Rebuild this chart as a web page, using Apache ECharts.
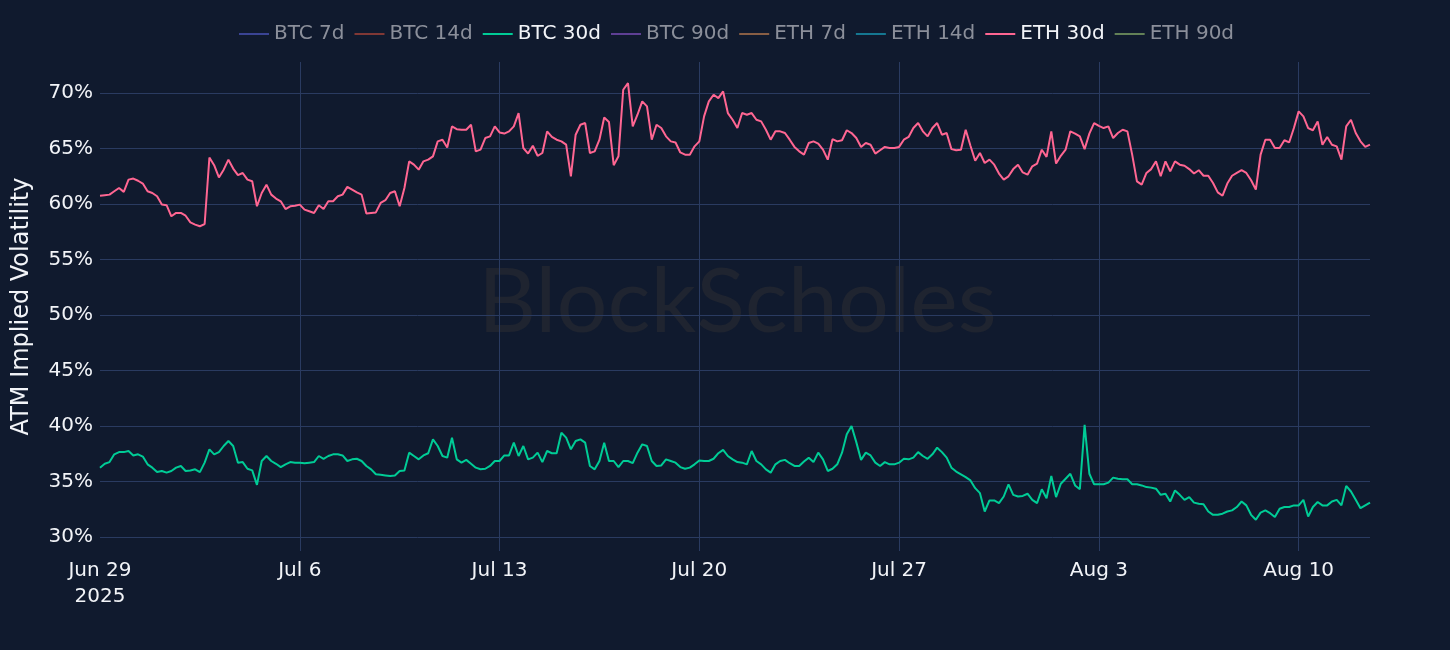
<!DOCTYPE html>
<html>
<head>
<meta charset="utf-8">
<title>ATM Implied Volatility</title>
<script src="https://cdn.jsdelivr.net/npm/echarts@6/dist/echarts.min.js"></script>
<style>
html,body{margin:0;padding:0;background:#101a2e;}
#main{width:1450px;height:650px;}
</style>
</head>
<body>
<div id="main"></div>
<script>
// 4-hourly samples starting Jun 29 2025 00:00
var startDate = [2025, 6, 29]
var stepHours = 4

var seriesNames = ['BTC 7d', 'BTC 14d', 'BTC 30d', 'BTC 90d', 'ETH 7d', 'ETH 14d', 'ETH 30d', 'ETH 90d']
var shownSeries = ['BTC 30d', 'ETH 30d']

var btc30d = [
	36.25, 36.6, 36.75, 37.45, 37.65, 37.65,
	37.75, 37.35, 37.45, 37.25, 36.55, 36.25,
	35.85, 35.95, 35.8, 35.95, 36.25, 36.4,
	35.95, 36.0, 36.1, 35.85, 36.7, 37.9,
	37.45, 37.65, 38.2, 38.65, 38.2, 36.7,
	36.75, 36.15, 36.0, 34.7, 36.85, 37.3,
	36.85, 36.6, 36.3, 36.55, 36.75, 36.7,
	36.7, 36.65, 36.7, 36.75, 37.3, 37.05,
	37.3, 37.45, 37.45, 37.35, 36.85, 37.0,
	37.05, 36.85, 36.4, 36.1, 35.65, 35.6,
	35.55, 35.5, 35.55, 35.95, 36.0, 37.6,
	37.3, 37.0, 37.35, 37.55, 38.8, 38.2,
	37.3, 37.15, 38.95, 37.0, 36.7, 36.95,
	36.6, 36.25, 36.1, 36.15, 36.4, 36.85,
	36.85, 37.35, 37.35, 38.5, 37.3, 38.2,
	37.0, 37.15, 37.6, 36.75, 37.75, 37.55,
	37.55, 39.4, 38.95, 37.9, 38.65, 38.8,
	38.5, 36.4, 36.1, 36.85, 38.5, 36.85,
	36.85, 36.3, 36.85, 36.85, 36.65, 37.6,
	38.35, 38.2, 36.85, 36.4, 36.45, 37.0,
	36.85, 36.7, 36.3, 36.15, 36.25, 36.55,
	36.9, 36.85, 36.85, 37.05, 37.55, 37.85,
	37.3, 37.0, 36.75, 36.7, 36.55, 37.75,
	36.85, 36.55, 36.1, 35.8, 36.55, 36.85,
	36.95, 36.65, 36.4, 36.4, 36.8, 37.15,
	36.75, 37.6, 37.0, 35.95, 36.15, 36.55,
	37.6, 39.25, 40.0, 38.55, 36.95, 37.6,
	37.35, 36.7, 36.4, 36.75, 36.55, 36.55,
	36.7, 37.05, 37.0, 37.15, 37.65, 37.3,
	37.05, 37.45, 38.05, 37.65, 37.15, 36.25,
	35.9, 35.65, 35.4, 35.1, 34.4, 33.95,
	32.3, 33.3, 33.3, 33.05, 33.65, 34.75,
	33.8, 33.65, 33.7, 33.9, 33.35, 33.05,
	34.3, 33.5, 35.5, 33.6, 34.8, 35.25,
	35.7, 34.65, 34.3, 40.1, 35.7, 34.75,
	34.75, 34.75, 34.9, 35.35, 35.25, 35.2,
	35.2, 34.75, 34.75, 34.65, 34.5, 34.45,
	34.35, 33.8, 33.9, 33.2, 34.2, 33.8,
	33.35, 33.6, 33.1, 33.0, 32.95, 32.3,
	32.0, 32.0, 32.1, 32.3, 32.4, 32.7,
	33.2, 32.85, 32.0, 31.55, 32.2, 32.4,
	32.15, 31.8, 32.55, 32.7, 32.7, 32.85,
	32.85, 33.35, 31.85, 32.7, 33.15, 32.85,
	32.85, 33.2, 33.35, 32.85, 34.6, 34.1,
	33.35, 32.6, 32.85, 33.1
]

var eth30d = [
	60.75, 60.8, 60.85, 61.15, 61.45, 61.1,
	62.2, 62.3, 62.1, 61.85, 61.15, 61.0,
	60.7, 59.95, 59.9, 58.9, 59.2, 59.2,
	58.95, 58.35, 58.15, 58.0, 58.2, 64.2,
	63.5, 62.4, 63.1, 64.0, 63.2, 62.6,
	62.8, 62.2, 62.05, 59.8, 61.0, 61.75,
	60.85, 60.5, 60.25, 59.55, 59.8, 59.85,
	59.95, 59.5, 59.35, 59.2, 59.9, 59.55,
	60.25, 60.25, 60.7, 60.85, 61.55, 61.3,
	61.05, 60.85, 59.15, 59.2, 59.25, 60.1,
	60.35, 61.0, 61.15, 59.8, 61.45, 63.85,
	63.55, 63.1, 63.85, 64.0, 64.3, 65.65,
	65.8, 65.1, 67.0, 66.75, 66.7, 66.7,
	67.15, 64.75, 64.9, 65.95, 66.1, 67.0,
	66.45, 66.35, 66.55, 67.0, 68.2, 65.05,
	64.55, 65.25, 64.35, 64.6, 66.55, 66.05,
	65.8, 65.65, 65.35, 62.5, 66.25, 67.15,
	67.3, 64.6, 64.75, 65.8, 67.8, 67.4,
	63.5, 64.3, 70.3, 70.9, 67.0, 68.05,
	69.25, 68.8, 65.8, 67.15, 66.85, 66.1,
	65.65, 65.55, 64.65, 64.45, 64.45, 65.2,
	65.65, 67.9, 69.25, 69.85, 69.55, 70.15,
	68.2, 67.6, 66.85, 68.2, 68.05, 68.2,
	67.6, 67.45, 66.7, 65.8, 66.55, 66.55,
	66.4, 65.8, 65.15, 64.75, 64.45, 65.5,
	65.65, 65.45, 64.9, 64.0, 65.85, 65.65,
	65.75, 66.65, 66.4, 65.95, 65.15, 65.5,
	65.35, 64.55, 64.85, 65.15, 65.05, 65.05,
	65.15, 65.8, 66.05, 66.85, 67.3, 66.55,
	66.1, 66.85, 67.3, 66.25, 66.4, 64.95,
	64.85, 64.9, 66.7, 65.25, 63.9, 64.6,
	63.7, 64.0, 63.55, 62.75, 62.2, 62.5,
	63.15, 63.55, 62.85, 62.65, 63.4, 63.65,
	64.9, 64.25, 66.55, 63.65, 64.35, 64.9,
	66.55, 66.35, 66.1, 64.95, 66.35, 67.3,
	67.05, 66.85, 67.0, 65.95, 66.4, 66.7,
	66.55, 64.45, 62.05, 61.75, 62.8, 63.15,
	63.85, 62.5, 63.85, 62.95, 63.85, 63.55,
	63.45, 63.15, 62.75, 63.05, 62.55, 62.55,
	61.9, 61.05, 60.75, 61.85, 62.55, 62.8,
	63.05, 62.8, 62.15, 61.3, 64.45, 65.8,
	65.8, 65.05, 65.05, 65.75, 65.55, 66.85,
	68.35, 67.9, 66.85, 66.65, 67.45, 65.35,
	66.05, 65.35, 65.2, 64.0, 67.0, 67.6,
	66.4, 65.65, 65.15, 65.35
]

// weekly ticks, counted in days from the start date
var xTickStepDays = 7
var yTicks = [30, 35, 40, 45, 50, 55, 60, 65, 70]

var colors = ['#636efa', '#EF553B', '#00cc96', '#ab63fa', '#FFA15A', '#19d3f3', '#FF6692', '#B6E880']
var monthNames = ['Jan', 'Feb', 'Mar', 'Apr', 'May', 'Jun', 'Jul', 'Aug', 'Sep', 'Oct', 'Nov', 'Dec']

var dayStep = stepHours / 24

function toPoints(values) {
	return values.map(function (v, i) {
		return [i * dayStep, v]
	})
}

function dayLabel(days) {
	var d = new Date(startDate[0], startDate[1] - 1, startDate[2] + Math.round(days))
	var s = monthNames[d.getMonth()] + ' ' + d.getDate()
	if (days === 0) s += '\n' + d.getFullYear()
	return s
}

var valuesByName = {
	'BTC 30d': btc30d,
	'ETH 30d': eth30d
}

var series = seriesNames.map(function (name, i) {
	return {
		name: name,
		type: 'line',
		data: valuesByName[name] ? toPoints(valuesByName[name]) : [],
		symbol: 'none',
		showSymbol: false,
		color: colors[i],
		lineStyle: { width: 2, color: colors[i] },
		z: 3
	}
})

var legendData = seriesNames.map(function (name) {
	var on = shownSeries.indexOf(name) >= 0
	return {
		name: name,
		icon: 'rect',
		textStyle: { color: on ? '#f2f4f8' : '#8b8f9a' },
		itemStyle: { opacity: on ? 1 : 0.5 }
	}
})

var gridColor = '#2a3b61'

var chartDom = document.getElementById('main')
var myChart = echarts.init(chartDom)
var option = {
	backgroundColor: '#101a2e',
	animation: false,
	textStyle: { fontFamily: 'DejaVu Sans' },
	graphic: [{
		type: 'text',
		left: 478,
		top: 258,
		z: -10,
		silent: true,
		style: {
			text: 'BlockScholes',
			font: '90px Lato',
			fill: '#1f2430'
		}
	}],
	legend: {
		data: legendData,
		left: 234,
		top: 19,
		itemWidth: 30,
		itemHeight: 2,
		itemGap: 10,
		textStyle: { fontSize: 20, fontFamily: 'DejaVu Sans' },
		selectedMode: false
	},
	grid: {
		left: 100,
		right: 80,
		top: 62,
		bottom: 99
	},
	xAxis: {
		type: 'value',
		min: 0,
		max: (btc30d.length - 1) * dayStep,
		interval: xTickStepDays,
		axisLine: { show: false },
		axisTick: { show: false },
		splitLine: { show: true, showMinLine: false, showMaxLine: false, lineStyle: { color: gridColor, width: 1 } },
		axisLabel: {
			color: '#f2f4f8',
			fontSize: 20,
			margin: 7,
			lineHeight: 26,
			showMinLabel: true,
			showMaxLabel: false,
			formatter: dayLabel
		}
	},
	yAxis: {
		type: 'value',
		min: 28.74,
		max: 72.8,
		name: 'ATM Implied Volatility',
		nameLocation: 'middle',
		nameGap: 66,
		nameTextStyle: { color: '#f2f4f8', fontSize: 24 },
		axisLine: { show: false },
		axisTick: { show: false, customValues: yTicks },
		splitLine: { show: true, lineStyle: { color: gridColor, width: 1 } },
		axisLabel: {
			customValues: yTicks,
			color: '#f2f4f8',
			fontSize: 20,
			margin: 7,
			formatter: '{value}%'
		}
	},
	series: series
}
myChart.setOption(option)
</script>
</body>
</html>
